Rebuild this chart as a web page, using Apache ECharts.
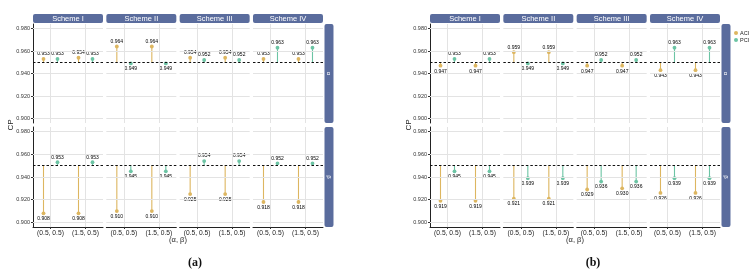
<!DOCTYPE html>
<html><head><meta charset="utf-8">
<script src="https://cdn.jsdelivr.net/npm/echarts@6/dist/echarts.min.js"></script>
<style>html,body{margin:0;padding:0;background:#fff}#c{width:756px;height:275px}</style>
</head><body><div id="c"></div>
<script>
// ---------------- data ----------------
const schemes = ['Scheme I', 'Scheme II', 'Scheme III', 'Scheme IV'];
const categories = ['(0.5, 0.5)', '(1.5, 0.5)'];
const params = ['α', 'β'];
const seriesNames = ['ACI', 'PCI'];
const yTicks = [0.90, 0.92, 0.94, 0.96, 0.98];
const refLine = 0.95;
const panelTags = ['(a)', '(b)'];
const xTitle = '(α, β)';
const yTitle = 'CP';

// panel (a)  [scheme][category]
const aciA_alpha = [[0.953, 0.954], [0.964, 0.964], [0.954, 0.954], [0.953, 0.953]];
const pciA_alpha = [[0.953, 0.953], [0.949, 0.949], [0.952, 0.952], [0.963, 0.963]];
const aciA_beta  = [[0.908, 0.908], [0.910, 0.910], [0.925, 0.925], [0.918, 0.918]];
const pciA_beta  = [[0.953, 0.953], [0.945, 0.945], [0.954, 0.954], [0.952, 0.952]];
// panel (b)
const aciB_alpha = [[0.947, 0.947], [0.959, 0.959], [0.947, 0.947], [0.943, 0.943]];
const pciB_alpha = [[0.953, 0.953], [0.949, 0.949], [0.952, 0.952], [0.963, 0.963]];
const aciB_beta  = [[0.919, 0.919], [0.921, 0.921], [0.929, 0.930], [0.926, 0.926]];
const pciB_beta  = [[0.945, 0.945], [0.939, 0.939], [0.936, 0.936], [0.939, 0.939]];

// ---------------- layout / style ----------------
const FONT = 'Liberation Sans, Arial, sans-serif';
const COL_ACI = '#DDB660';
const COL_PCI = '#6CC4A4';
const STRIP = '#5A6C9D';
const Y_MIN = 0.896, Y_MAX = 0.984;
const colW = 70, gap = 3.33;
const rowTop = [24, 127], rowH = [99, 100];
const panels = [
  { left: 33, aci: [aciA_alpha, aciA_beta], pci: [pciA_alpha, pciA_beta], tagX: 195, titleX: 178, cpX: 11 },
  { left: 430, aci: [aciB_alpha, aciB_beta], pci: [pciB_alpha, pciB_beta], tagX: 593, titleX: 575, cpX: 409 }
];

function makeRender(offset, color) {
  return function (p, api) {
    const i = api.value(0), v = api.value(1);
    const bw = api.size([1, 0])[0];
    const pt = api.coord([i, v]);
    const base = api.coord([i, refLine]);
    const x = pt[0] + offset * bw;
    const up = v >= refLine;
    return {
      type: 'group',
      children: [
        { type: 'line', shape: { x1: x, y1: base[1], x2: x, y2: pt[1] }, style: { stroke: color, lineWidth: 1.1 } },
        { type: 'circle', shape: { cx: x, cy: pt[1], r: 1.9 }, style: { fill: color } },
        { type: 'text', x: x, y: up ? pt[1] - 2.5 : pt[1] + 3, style: {
            text: v.toFixed(3), align: 'center', verticalAlign: up ? 'bottom' : 'top',
            fontSize: 5, fontFamily: FONT, fill: '#000' } }
      ]
    };
  };
}

const grid = [], xAxis = [], yAxis = [], series = [], graphic = [];
let gi = 0;
panels.forEach((P, pi) => {
  for (let r = 0; r < 2; r++) {
    for (let c = 0; c < 4; c++) {
      const left = P.left + c * (colW + gap);
      grid.push({ left: left, top: rowTop[r], width: colW, height: rowH[r] });
      const bottomRow = r === 1;
      xAxis.push({
        gridIndex: gi, type: 'category', data: categories, boundaryGap: true,
        show: bottomRow,
        axisLine: { show: true, lineStyle: { color: '#222', width: 1 } },
        axisTick: { show: true, alignWithLabel: true, length: 2, lineStyle: { color: '#333' } },
        axisLabel: { fontSize: 6.7, fontFamily: FONT, color: '#222', margin: 3 },
        splitLine: { show: false }
      });
      yAxis.push({
        gridIndex: gi, type: 'value', min: Y_MIN, max: Y_MAX,
        show: c === 0,
        axisLine: { show: true, lineStyle: { color: '#222', width: 1 } },
        axisTick: { show: true, length: 2, customValues: yTicks, lineStyle: { color: '#333' } },
        axisLabel: { fontSize: 5.5, fontFamily: FONT, color: '#333', margin: 3, customValues: yTicks,
          showMinLabel: true, showMaxLabel: true, hideOverlap: false,
          formatter: v => (yTicks.some(t => Math.abs(t - v) < 1e-9) ? v.toFixed(3) : '') },
        splitLine: { show: false }
      });
      // gridlines + reference line
      const ml = [];
      yTicks.forEach(t => ml.push({ yAxis: t, lineStyle: { color: '#e3e3e3', width: 1, type: 'solid' } }));
      categories.forEach(cat => ml.push({ xAxis: cat, lineStyle: { color: '#e3e3e3', width: 1, type: 'solid' } }));
      ml.push({ yAxis: refLine, lineStyle: { color: '#111', width: 1, type: [2.5, 2] } });
      series.push({
        type: 'line', name: 'grid', xAxisIndex: gi, yAxisIndex: gi, data: [], silent: true, z: 1,
        markLine: { symbol: ['none', 'none'], silent: true, animation: false, label: { show: false }, data: ml }
      });
      [[P.aci[r][c], -0.2, COL_ACI, 'ACI'], [P.pci[r][c], 0.2, COL_PCI, 'PCI']].forEach(([vals, off, col, nm]) => {
        series.push({
          type: 'custom', name: nm, xAxisIndex: gi, yAxisIndex: gi, z: 3,
          itemStyle: { color: col },
          data: vals.map((v, j) => [j, v]),
          renderItem: makeRender(off, col),
          animation: false
        });
      });
      // top strips
      if (r === 0) {
        graphic.push({ type: 'rect', shape: { x: left, y: 14, width: colW, height: 9, r: 2 }, style: { fill: STRIP } });
        graphic.push({ type: 'text', x: left + colW / 2, y: 18.7, style: { text: schemes[c], align: 'center', verticalAlign: 'middle', fill: '#fff', fontSize: 7.5, fontFamily: FONT } });
      }
      gi++;
    }
    // right strip
    const sx = P.left + 4 * colW + 3 * gap + 1.5;
    graphic.push({ type: 'rect', shape: { x: sx, y: rowTop[r], width: 9, height: rowH[r], r: 2 }, style: { fill: STRIP } });
    graphic.push({ type: 'text', x: sx + 4.5, y: rowTop[r] + rowH[r] / 2, rotation: -Math.PI / 2, style: { text: params[r], align: 'center', verticalAlign: 'middle', fill: '#fff', fontSize: 6, fontFamily: FONT } });
  }
  graphic.push({ type: 'text', x: P.cpX, y: 125, rotation: Math.PI / 2, style: { text: yTitle, align: 'center', verticalAlign: 'middle', fill: '#222', fontSize: 8, fontFamily: FONT } });
  graphic.push({ type: 'text', x: P.titleX, y: 240, style: { text: xTitle, align: 'center', verticalAlign: 'middle', fill: '#222', fontSize: 7.5, fontFamily: FONT } });
  graphic.push({ type: 'text', x: P.tagX, y: 263, style: { text: panelTags[pi], align: 'center', verticalAlign: 'middle', fill: '#111', fontSize: 12, fontWeight: 'bold', fontFamily: 'Liberation Serif, Times New Roman, serif' } });
});

const chart = echarts.init(document.getElementById('c'), null, { renderer: 'canvas' });
chart.setOption({
  animation: false,
  backgroundColor: '#fff',
  grid, xAxis, yAxis, series, graphic,
  legend: {
    data: seriesNames, left: 734, top: 30, orient: 'vertical', icon: 'circle',
    itemWidth: 4, itemHeight: 4, itemGap: 1, padding: 0,
    textStyle: { fontSize: 5.5, fontFamily: FONT, color: '#222', padding: [0, 0, 0, -3] }
  }
});
</script></body></html>
